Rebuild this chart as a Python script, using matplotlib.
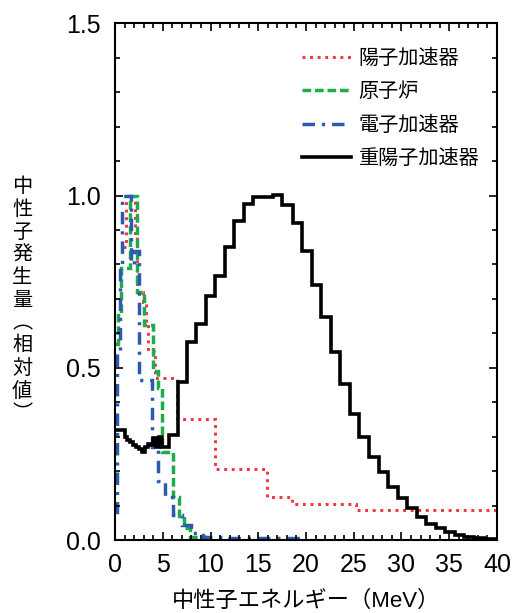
import matplotlib
matplotlib.use("Agg")
import matplotlib.pyplot as plt
from matplotlib.ticker import MultipleLocator

plt.rcParams['font.family'] = ['Liberation Sans', 'Noto Sans CJK JP', 'DejaVu Sans']

# --- data ---
labels = ['陽子加速器', '原子炉', '電子加速器', '重陽子加速器']

proton_edges = [0.8, 1.1, 2.1, 2.3, 2.9, 3.2, 3.5, 4.2, 6.45, 10.5, 15.9, 18.5, 25.2, 40]
proton_vals = [0.85, 1.0, 0.88, 0.72, 0.69, 0.62, 0.55, 0.469, 0.352, 0.205, 0.124, 0.106, 0.087]

reactor_edges = [0, 0.3, 0.6, 1.6, 2.3, 3.0, 4.0, 4.5, 4.9, 6.1, 6.7, 7.2, 7.9, 9.6]
reactor_vals = [0.57, 0.66, 0.79, 1.0, 0.72, 0.625, 0.49, 0.44, 0.256, 0.125, 0.07, 0.035, 0.01]

electron_edges = [0, 0.25, 0.5, 0.75, 1.7, 2.0, 2.5, 3.9, 4.5, 5.2, 6.1, 7.0, 8.0, 9.2, 11.2, 20]
electron_vals = [0.08, 0.55, 0.8, 1.0, 0.8, 0.84, 0.465, 0.27, 0.17, 0.125, 0.072, 0.045, 0.02, 0.01, 0.005]

deuteron_edges = [0, 1.0, 1.3, 1.6, 1.9, 2.2, 2.5, 2.8, 3.1, 3.4, 3.7, 4.0, 4.3, 4.6, 4.9,
                  5.2, 5.6, 6.6, 7.5, 8.5, 9.5, 10.5, 11.5, 12.5, 13.5, 14.5, 15.5, 16.5,
                  17.5, 18.6, 19.6, 20.6, 21.6, 22.6, 23.6, 24.6, 25.6, 26.6, 27.6, 28.6,
                  29.6, 30.6, 31.6, 32.6, 33.6, 34.6, 35.6, 36.6, 37.6, 38.6, 40]
deuteron_vals = [0.32, 0.30, 0.29, 0.285, 0.275, 0.27, 0.265, 0.255, 0.27, 0.28, 0.275,
                 0.295, 0.27, 0.30, 0.27, 0.27, 0.305, 0.46, 0.575, 0.628, 0.708, 0.766,
                 0.85, 0.926, 0.976, 0.997, 0.995, 1.003, 0.973, 0.92, 0.838, 0.741, 0.647,
                 0.546, 0.452, 0.365, 0.298, 0.242, 0.198, 0.155, 0.123, 0.092, 0.068,
                 0.046, 0.034, 0.024, 0.014, 0.010, 0.007, 0.004]

fig = plt.figure(figsize=(5.16, 6.13), dpi=100)
ax = fig.add_axes([0.223, 0.119, 0.740, 0.843])

ax.stairs(proton_vals, proton_edges, baseline=None, color='#ef3340', lw=2.1,
          linestyle=(0, (1, 1.6)), label=labels[0])
ax.stairs(reactor_vals, reactor_edges, baseline=None, color='#1fab4c', lw=2.5,
          linestyle=(0, (2.5, 1.1)), label=labels[1])
ax.stairs(electron_vals, electron_edges, baseline=None, color='#2a5bb0', lw=2.5,
          linestyle=(0, (3.6, 2.0, 0.9, 2.0)), label=labels[2])
ax.stairs(deuteron_vals, deuteron_edges, baseline=None, color='black', lw=2.6,
          label=labels[3])

ax.set_xlim(0, 40)
ax.set_ylim(0, 1.5)
ax.set_xticks([0, 5, 10, 15, 20, 25, 30, 35, 40])
ax.set_yticks([0, 0.5, 1.0, 1.5])
ax.set_yticklabels(['0.0', '0.5', '1.0', '1.5'])
ax.xaxis.set_minor_locator(MultipleLocator(1))
ax.yaxis.set_minor_locator(MultipleLocator(0.1))
ax.tick_params(which='both', direction='in', top=True, right=True, width=1.2, labelsize=18)
ax.tick_params(which='major', length=6)
ax.tick_params(which='minor', length=3.5)
ax.tick_params(axis='x', pad=9)
ax.tick_params(axis='y', pad=10)
for s in ax.spines.values():
    s.set_linewidth(1.5)

ax.set_xlabel('中性子エネルギー（MeV）', fontsize=16, labelpad=10)
fig.text(0.043, 0.51, '\n'.join('中性子発生量︵相対値︶'), fontsize=14.5,
         ha='center', va='center', linespacing=1.25)

ax.legend(loc='upper left', bbox_to_anchor=(0.49, 0.95), frameon=False, fontsize=14.5,
          handlelength=2.4, handletextpad=0.4, labelspacing=0.7,
          borderaxespad=0, borderpad=0)

fig.savefig('out.png', dpi=100)
